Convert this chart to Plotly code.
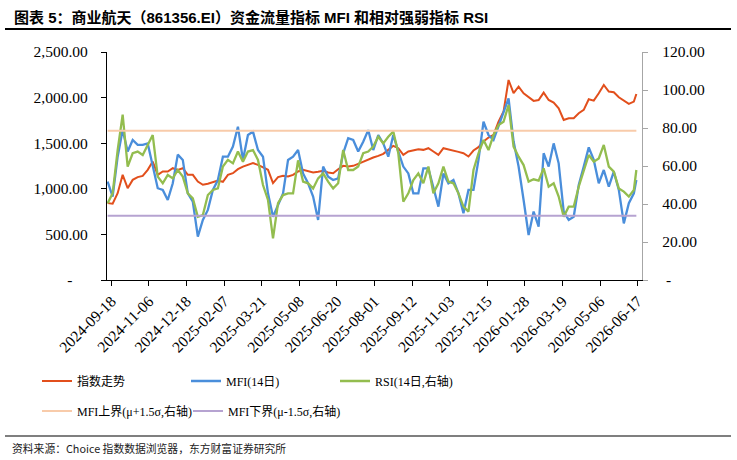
import plotly.graph_objects as go

# ---------------- data ----------------
tick_labels = ["2024-09-18", "2024-11-06", "2024-12-18", "2025-02-07", "2025-03-21",
               "2025-05-08", "2025-06-20", "2025-08-01", "2025-09-12", "2025-11-03",
               "2025-12-15", "2026-01-28", "2026-03-19", "2026-05-06", "2026-06-17"]
tick_index = [3 + 30 * i for i in range(len(tick_labels))]  # trading-day index of each label

day_index = list(range(0, 421, 4)) + [422]   # sampled trading days

index_vals = [843, 836, 952, 1153, 1007, 1098, 1128, 1142, 1208, 1299, 1153, 1190, 1190, 1226,
              1208, 1226, 1153, 1153, 1080, 1044, 1055, 1069, 1091, 1077, 1153, 1171, 1215, 1244,
              1263, 1281, 1263, 1237, 1208, 1062, 1128, 1142, 1135, 1153, 1190, 1208, 1190, 1179,
              1186, 1197, 1179, 1171, 1215, 1252, 1244, 1252, 1274, 1299, 1318, 1343, 1361,
              1383, 1427, 1471, 1445, 1372, 1409, 1420, 1434, 1427, 1445, 1409, 1372, 1445, 1434,
              1420, 1405, 1390, 1354, 1420, 1456, 1518, 1562, 1591, 1737, 1847, 2193, 2050,
              2120, 2047, 2004, 1964, 1974, 2055, 1974, 1945, 1883, 1755, 1774, 1774, 1828, 1865,
              1982, 1967, 2047, 2139, 2066, 2058, 2004, 1967, 1931, 1956,
              2040]

mfi_vals = [51.8, 43.9, 64.9, 79.0, 67.6, 73.7, 71.1, 71.1, 71.9, 59.7, 48.3, 47.4, 42.1, 50.9,
            66.0, 63.2, 45.6, 41.2, 22.8, 31.6, 36.9, 47.4, 52.6, 64.9, 64.9, 70.2, 80.7, 63.2,
            76.3, 78.1, 68.4, 64.9, 45.6, 33.3, 39.5, 45.6, 63.2, 64.9, 68.4, 56.1, 50.9, 43.9,
            31.6, 59.7, 54.4, 52.6, 53.5, 66.7, 74.6, 73.7, 67.6, 72.8, 78.9, 68.4, 76.3,
            71.9, 64.9, 76.3, 67.6, 59.7, 56.1, 45.6, 45.6, 58.8, 58.8, 49.1, 38.6, 56.1, 50.9,
            52.6, 45.6, 35.1, 47.4, 47.4, 63.2, 83.3, 76.3, 73.7, 80.7, 87.7, 95.6, 73.0,
            59.7, 42.1, 23.7, 36.0, 28.1, 66.7, 59.7, 71.9, 61.4, 36.0, 31.6, 33.3, 50.0, 59.7,
            69.8, 63.2, 50.9, 57.9, 49.1, 57.0, 47.4, 29.8, 40.4, 45.6,
            52.6]

rsi_vals = [40.4, 45.6, 68.4, 87.0, 59.7, 66.7, 67.6, 65.8, 71.1, 76.3, 54.4, 50.9, 55.3, 53.5,
            57.9, 54.4, 45.6, 43.0, 33.3, 34.2, 44.7, 47.4, 48.2, 59.7, 63.2, 61.4, 67.6, 62.3,
            67.6, 68.4, 63.2, 50.0, 42.1, 21.9, 40.4, 44.7, 45.6, 45.6, 63.0, 51.8, 50.9, 48.2,
            53.5, 56.1, 51.8, 48.2, 50.9, 68.4, 57.9, 57.9, 59.7, 66.7, 67.6, 70.2, 75.4,
            71.9, 75.4, 78.1, 66.7, 41.2, 45.6, 52.6, 56.1, 50.9, 59.7, 45.6, 50.9, 59.7, 51.8,
            50.9, 45.6, 38.6, 36.0, 57.9, 66.7, 73.7, 68.4, 76.3, 81.6, 83.3, 92.1, 70.2,
            64.9, 60.5, 51.8, 53.0, 52.3, 58.8, 49.1, 50.9, 43.9, 33.3, 38.6, 38.6, 49.1, 57.9,
            65.8, 62.3, 64.0, 71.1, 59.7, 57.0, 48.2, 46.5, 43.9, 47.4,
            57.9]

mfi_upper = 78.6
mfi_lower = 33.8

left_ticks = [0, 500, 1000, 1500, 2000, 2500]
left_ticktext = ["-\u00a0\u00a0\u00a0\u00a0", "500.00", "1,000.00", "1,500.00", "2,000.00", "2,500.00"]
right_ticks = [0, 20, 40, 60, 80, 100, 120]
right_ticktext = ["\u00a0-", "20.00", "40.00", "60.00", "80.00", "100.00", "120.00"]

# ---------------- styles ----------------
C_RED = "#E24F1C"
C_BLUE = "#4A8EDB"
C_GREEN = "#93BD4F"
C_ORANGE = "#F8CBAA"
C_PURPLE = "#B6A3D1"
SERIF = "Liberation Serif, 'Times New Roman', 'Noto Sans CJK SC', serif"
CJK = "'Noto Sans CJK SC', sans-serif"

W, H = 737, 460
ML, MR, MT, MB = 107, 95, 52, 180
PW, PH = W - ML - MR, H - MT - MB


def px_x(x):
    return (x - ML) / PW


def px_y(y):
    return (H - MB - y) / PH


span = [day_index[0], day_index[-1]]

fig = go.Figure()
fig.add_trace(go.Scatter(x=day_index, y=index_vals, mode="lines", name="指数走势",
                         line=dict(color=C_RED, width=2), yaxis="y", legend="legend"))
fig.add_trace(go.Scatter(x=day_index, y=mfi_vals, mode="lines", name="MFI(14日)",
                         line=dict(color=C_BLUE, width=2.3), yaxis="y2", legend="legend"))
fig.add_trace(go.Scatter(x=day_index, y=rsi_vals, mode="lines", name="RSI(14日,右轴)",
                         line=dict(color=C_GREEN, width=2.3), yaxis="y2", legend="legend"))
fig.add_trace(go.Scatter(x=span, y=[mfi_upper, mfi_upper], mode="lines",
                         name="MFI上界(μ+1.5σ,右轴)",
                         line=dict(color=C_ORANGE, width=2), yaxis="y2", legend="legend2"))
fig.add_trace(go.Scatter(x=span, y=[mfi_lower, mfi_lower], mode="lines",
                         name="MFI下界(μ-1.5σ,右轴)",
                         line=dict(color=C_PURPLE, width=2), yaxis="y2", legend="legend3"))

tickfont = dict(family=SERIF, size=15.5, color="#000")
legfont = dict(family=SERIF, size=12, color="#000")


def leg(xpx, ypx, ew=None):
    d = dict(orientation="h", x=px_x(xpx), y=px_y(ypx), xanchor="left", yanchor="middle",
             font=legfont, bgcolor="rgba(0,0,0,0)", itemwidth=30)
    if ew:
        d.update(entrywidth=ew, entrywidthmode="pixels")
    return d


fig.update_layout(
    width=W, height=H,
    margin=dict(l=ML, r=MR, t=MT, b=MB, pad=0),
    paper_bgcolor="white", plot_bgcolor="white",
    xaxis=dict(range=[-0.5, 426.5], tickmode="array", tickvals=tick_index, ticktext=tick_labels,
               tickangle=-45, ticks="outside", ticklen=5, tickcolor="#000", tickwidth=1,
               showline=True, linecolor="#000", linewidth=1.2, showgrid=False, zeroline=False,
               tickfont=tickfont),
    yaxis=dict(range=[0, 2500], tickmode="array", tickvals=left_ticks, ticktext=left_ticktext,
               ticks="outside", ticklen=5, tickcolor="#000", showline=True, linecolor="#000",
               linewidth=1.2, showgrid=False, zeroline=False, tickfont=tickfont,
               ticklabelstandoff=10),
    yaxis2=dict(range=[0, 120], tickmode="array", tickvals=right_ticks, ticktext=right_ticktext,
                overlaying="y", side="right", ticks="outside", ticklen=5, tickcolor="#A6A6A6",
                showline=True, linecolor="#A6A6A6", linewidth=1.2, showgrid=False,
                zeroline=False, tickfont=tickfont, ticklabelstandoff=11),
    legend=leg(37, 381, 104),
    legend2=leg(37, 411),
    legend3=leg(188, 411),
    showlegend=True,
    annotations=[
        dict(text="<b>图表 5：商业航天（861356.EI）资金流量指标 MFI 和相对强弱指标 RSI</b>",
             xref="paper", yref="paper", x=px_x(12), y=px_y(17), xanchor="left",
             yanchor="middle", showarrow=False,
             font=dict(family="Liberation Sans, Arial, 'Noto Sans CJK SC'", size=15, color="#000")),
        dict(text="资料来源：Choice 指数数据浏览器，东方财富证券研究所",
             xref="paper", yref="paper", x=px_x(10), y=px_y(448), xanchor="left",
             yanchor="middle", showarrow=False,
             font=dict(family=CJK, size=10.8, color="#222")),
    ],
    shapes=[
        dict(type="line", xref="paper", yref="paper", x0=px_x(5), x1=px_x(731),
             y0=px_y(29), y1=px_y(29), line=dict(color="#000", width=2)),
        dict(type="line", xref="paper", yref="paper", x0=px_x(5), x1=px_x(731),
             y0=px_y(436), y1=px_y(436), line=dict(color="#7F7F7F", width=2)),
    ],
)

fig.write_html("out.html")
